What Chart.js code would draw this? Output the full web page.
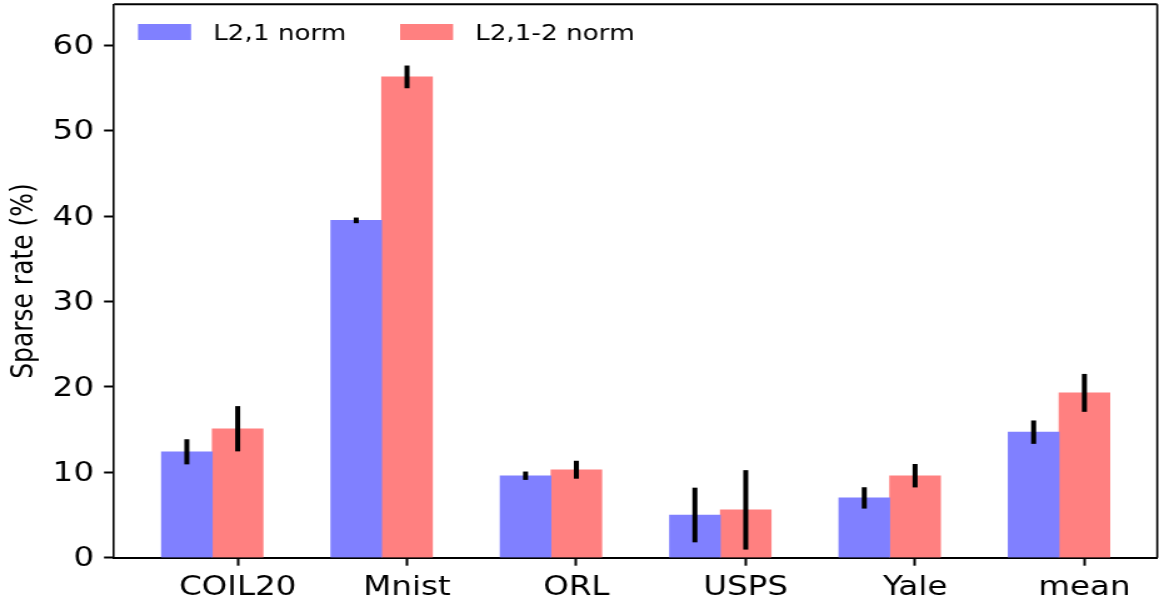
<!DOCTYPE html>
<html>
<head>
<meta charset="utf-8">
<script src="https://cdn.jsdelivr.net/npm/chart.js@4"></script>
<style>
  html, body { margin: 0; padding: 0; background: #fff; }
  #sparseChart { display: block; }
</style>
</head>
<body>
<!-- the reference is a matplotlib figure stretched sideways, so the canvas is drawn narrow and widened by CSS -->
<canvas id="sparseChart" width="927" height="603" style="width:1159px;height:603px"></canvas>
<script>
const categories = ['COIL20', 'Mnist', 'ORL', 'USPS', 'Yale', 'mean'];
const l21Values = [12.4, 39.5, 9.6, 5.0, 7.0, 14.7];
const l212Values = [15.1, 56.3, 10.3, 5.6, 9.6, 19.3];
const l21Err = [1.47, 0.33, 0.49, 3.2, 1.25, 1.37];
const l212Err = [2.65, 1.33, 1.05, 4.65, 1.37, 2.22];
const yTicks = [0, 10, 20, 30, 40, 50, 60];
const seriesLabels = ['L2,1 norm', 'L2,1-2 norm'];

const barShift = 0.3;
const blue = '#8080ff';
const red = '#ff8080';

Chart.defaults.font.family = 'DejaVu Sans';
Chart.defaults.color = '#000';

// error bars, no caps
const errorBars = {
  id: 'errorBars',
  afterDatasetsDraw(chart) {
    const ctx = chart.ctx;
    const y = chart.scales.y;
    const errs = [l21Err, l212Err];
    ctx.save();
    ctx.strokeStyle = '#000';
    ctx.lineWidth = 4;
    chart.data.datasets.forEach((ds, di) => {
      const meta = chart.getDatasetMeta(di);
      meta.data.forEach((bar, i) => {
        const v = ds.data[i].y;
        ctx.beginPath();
        ctx.moveTo(bar.x, y.getPixelForValue(v - errs[di][i]));
        ctx.lineTo(bar.x, y.getPixelForValue(v + errs[di][i]));
        ctx.stroke();
      });
    });
    ctx.restore();
  }
};

// top and right spines + legend inside the frame
const frameAndLegend = {
  id: 'frameAndLegend',
  afterDraw(chart) {
    const ctx = chart.ctx;
    const a = chart.chartArea;
    ctx.save();
    ctx.strokeStyle = '#000';
    ctx.lineWidth = 2;
    ctx.beginPath();
    ctx.moveTo(a.left, a.top);
    ctx.lineTo(a.right, a.top);
    ctx.stroke();
    ctx.lineWidth = 1.6;
    ctx.beginPath();
    ctx.moveTo(a.right, a.top);
    ctx.lineTo(a.right, a.bottom);
    ctx.stroke();

    ctx.font = '21px "DejaVu Sans"';
    ctx.textBaseline = 'alphabetic';
    ctx.textAlign = 'left';
    const items = [
      { x: a.left + 19.2, color: blue, label: seriesLabels[0] },
      { x: a.left + 228.8, color: red, label: seriesLabels[1] }
    ];
    items.forEach(it => {
      ctx.fillStyle = it.color;
      ctx.fillRect(it.x, 24, 42.4, 16);
      ctx.fillStyle = '#000';
      ctx.fillText(it.label, it.x + 60, 39.5);
    });
    ctx.restore();
  }
};

const sparseChart = new Chart(
  document.getElementById('sparseChart'),
  {
    type: 'bar',
    data: {
      datasets: [
        {
          label: seriesLabels[0],
          data: l21Values.map((v, i) => ({ x: i, y: v })),
          backgroundColor: blue,
          borderWidth: 0
        },
        {
          label: seriesLabels[1],
          data: l212Values.map((v, i) => ({ x: i + barShift, y: v })),
          backgroundColor: red,
          borderWidth: 0
        }
      ]
    },
    options: {
      responsive: false,
      devicePixelRatio: 1,
      animation: false,
      grouped: false,
      barPercentage: 1,
      categoryPercentage: 1,
      layout: {
        padding: { top: 4.3, left: 0, right: 1.4, bottom: 0 }
      },
      plugins: {
        legend: { display: false },
        tooltip: { enabled: false }
      },
      scales: {
        x: {
          type: 'linear',
          min: -0.43,
          max: 5.73,
          offset: false,
          grid: {
            offset: false,
            drawOnChartArea: false,
            drawTicks: true,
            tickLength: 8,
            tickWidth: 2,
            tickColor: '#000'
          },
          border: { display: true, color: '#000', width: 2 },
          ticks: {
            autoSkip: false,
            maxRotation: 0,
            padding: 7,
            font: { size: 26 },
            color: '#000',
            callback: (value, index) => categories[index]
          },
          afterBuildTicks: axis => {
            axis.ticks = categories.map((c, i) => ({ value: i + barShift }));
          },
          afterFit: axis => {
            axis.height = 45.3;
            axis.paddingLeft = 0;
            axis.paddingRight = 0;
          }
        },
        y: {
          min: 0,
          max: 64.8,
          grid: {
            drawOnChartArea: false,
            drawTicks: true,
            tickLength: 8,
            tickWidth: 2,
            tickColor: '#000'
          },
          border: { display: true, color: '#000', width: 1.6 },
          ticks: {
            padding: 8,
            labelOffset: 2,
            font: { size: 26 },
            color: '#000'
          },
          afterBuildTicks: axis => {
            axis.ticks = yTicks.map(v => ({ value: v }));
          },
          afterFit: axis => {
            axis.width = 91.2;
            axis.paddingTop = 0;
            axis.paddingBottom = 0;
          },
          title: {
            display: true,
            text: 'Sparse rate (%)',
            font: { size: 25 },
            color: '#000',
            padding: { top: 4, bottom: 0 }
          }
        }
      }
    },
    plugins: [errorBars, frameAndLegend]
  }
);
</script>
</body>
</html>
